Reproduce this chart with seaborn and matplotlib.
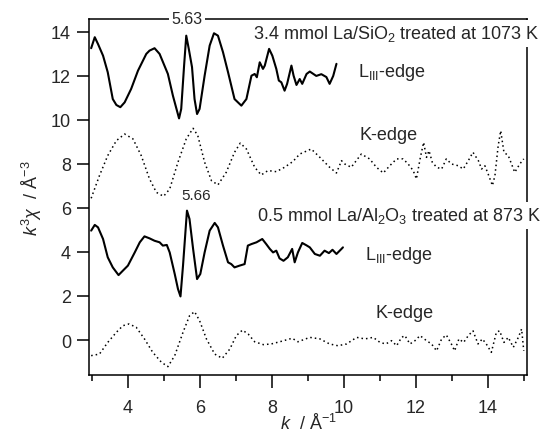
import numpy as np
import pandas as pd
import matplotlib
matplotlib.use("Agg")
import matplotlib.pyplot as plt
import seaborn as sns

sns.set_style("ticks")
plt.rcParams['font.family'] = ['Liberation Sans', 'DejaVu Sans']
plt.rcParams['mathtext.fontset'] = 'custom'
plt.rcParams['mathtext.rm'] = 'Liberation Sans'
plt.rcParams['mathtext.it'] = 'Liberation Sans:italic'
plt.rcParams['mathtext.bf'] = 'Liberation Sans:bold'

# 3.4 mmol La/SiO2, LIII-edge (offset spectrum)
k_si_l3 = [2.98, 3.08, 3.17, 3.31, 3.44, 3.58, 3.68, 3.79, 3.91, 4.09, 4.28, 4.51, 4.60, 4.74,
           4.88, 5.11, 5.25, 5.42, 5.48, 5.56, 5.62, 5.69, 5.78, 5.85, 5.92, 5.99, 6.13, 6.27,
           6.39, 6.50, 6.64, 6.78, 6.96, 7.15, 7.29, 7.43, 7.52, 7.58, 7.66, 7.75, 7.80, 7.92,
           8.01, 8.12, 8.19, 8.26, 8.35, 8.42, 8.54, 8.60, 8.68, 8.77, 8.84, 8.96, 9.05, 9.23,
           9.37, 9.51, 9.60, 9.70, 9.79]
chi_si_l3 = [13.26, 13.76, 13.45, 12.92, 12.17, 10.95, 10.68, 10.58, 10.80, 11.41, 12.24, 13.00,
             13.15, 13.26, 13.00, 12.09, 11.10, 10.07, 10.50, 12.47, 13.83, 13.23, 12.40, 10.95,
             10.27, 10.50, 12.01, 13.38, 13.94, 13.83, 13.08, 12.17, 10.95, 10.65, 10.95, 12.01,
             12.09, 11.94, 12.62, 12.32, 12.47, 13.23, 12.92, 12.32, 11.79, 11.71, 11.33, 11.64,
             12.47, 12.01, 11.59, 11.86, 11.64, 12.09, 12.20, 12.00, 12.08, 11.95, 11.64, 12.00,
             12.55]

# 3.4 mmol La/SiO2, K-edge
k_si_k = [2.98, 3.21, 3.44, 3.68, 3.91, 4.14, 4.37, 4.60, 4.79, 4.99, 5.16, 5.39, 5.62, 5.81,
          5.94, 6.13, 6.32, 6.50, 6.73, 6.96, 7.12, 7.29, 7.52, 7.70, 7.89, 8.12, 8.35, 8.58,
          8.77, 9.09, 9.33, 9.60, 9.79, 9.93, 10.02, 10.20, 10.48, 10.71, 10.90, 11.09, 11.27,
          11.46, 11.64, 11.78, 11.92, 12.01, 12.12, 12.21, 12.29, 12.36, 12.45, 12.57, 12.71,
          12.84, 12.98, 13.17, 13.31, 13.45, 13.58, 13.73, 13.82, 13.91, 14.00, 14.12, 14.19,
          14.28, 14.35, 14.44, 14.56, 14.74, 14.88, 14.99]
chi_si_k = [6.44, 7.47, 8.38, 9.06, 9.36, 9.14, 8.38, 7.32, 6.71, 6.53, 6.86, 8.08, 9.14, 9.62,
            9.29, 8.08, 7.24, 7.05, 7.62, 8.53, 8.95, 8.68, 7.85, 7.50, 7.70, 7.65, 7.85, 8.11,
            8.45, 8.68, 8.30, 7.85, 7.59, 8.15, 8.00, 7.85, 8.45, 8.23, 7.85, 7.59, 7.92, 8.23,
            8.23, 8.00, 7.70, 7.32, 8.30, 8.98, 8.30, 8.60, 8.08, 7.85, 7.77, 8.23, 8.00, 7.92,
            7.77, 8.15, 8.53, 8.15, 7.77, 7.92, 7.55, 7.02, 7.47, 8.83, 9.51, 8.53, 8.38, 7.62,
            8.00, 8.23]

# 0.5 mmol La/Al2O3, LIII-edge
k_al_l3 = [2.98, 3.08, 3.17, 3.31, 3.44, 3.58, 3.74, 3.86, 4.00, 4.19, 4.33, 4.46, 4.60, 4.74,
           4.88, 4.97, 5.08, 5.16, 5.30, 5.39, 5.46, 5.53, 5.64, 5.71, 5.81, 5.92, 6.01, 6.13,
           6.27, 6.41, 6.50, 6.64, 6.78, 6.87, 6.96, 7.10, 7.24, 7.33, 7.43, 7.57, 7.73, 7.84,
           7.94, 8.03, 8.12, 8.21, 8.32, 8.44, 8.56, 8.63, 8.72, 8.84, 8.96, 9.05, 9.19, 9.33,
           9.46, 9.58, 9.68, 9.79, 9.93, 9.97]
chi_al_l3 = [4.97, 5.23, 5.12, 4.59, 3.76, 3.30, 2.95, 3.15, 3.38, 3.98, 4.44, 4.71, 4.62, 4.51,
             4.44, 4.29, 4.32, 3.98, 3.00, 2.32, 1.98, 3.38, 5.88, 5.50, 4.14, 2.77, 3.00, 3.98,
             4.97, 5.32, 5.12, 4.29, 3.53, 3.45, 3.30, 3.38, 3.45, 4.29, 4.36, 4.44, 4.59, 4.36,
             4.14, 3.98, 4.06, 3.71, 3.60, 3.76, 4.14, 3.53, 3.98, 4.41, 4.30, 4.21, 3.91, 3.83,
             4.06, 3.95, 4.10, 3.91, 4.14, 4.21]

# 0.5 mmol La/Al2O3, K-edge
k_al_k = [2.98, 3.21, 3.44, 3.68, 3.86, 4.03, 4.23, 4.46, 4.69, 4.93, 5.11, 5.30, 5.53, 5.71,
          5.85, 5.99, 6.18, 6.41, 6.62, 6.83, 7.01, 7.18, 7.34, 7.52, 7.76, 7.98, 8.26, 8.56,
          8.72, 9.05, 9.33, 9.60, 9.83, 10.07, 10.35, 10.58, 10.81, 11.00, 11.16, 11.32, 11.46,
          11.60, 11.69, 11.83, 11.97, 12.11, 12.29, 12.43, 12.57, 12.71, 12.84, 12.98, 13.07,
          13.19, 13.32, 13.45, 13.58, 13.72, 13.84, 13.95, 14.09, 14.23, 14.32, 14.44, 14.56,
          14.70, 14.84, 14.93, 14.99]
chi_al_k = [-0.71, -0.64, -0.11, 0.35, 0.65, 0.73, 0.58, 0.05, -0.56, -1.01, -1.21, -0.71, 0.35,
            1.10, 1.29, 0.88, 0.05, -0.64, -0.83, -0.41, 0.20, 0.45, 0.27, -0.08, -0.21, -0.18,
            -0.06, 0.08, -0.08, 0.12, 0.05, -0.18, -0.26, -0.18, 0.12, 0.05, 0.12, -0.11, -0.18,
            -0.03, -0.26, 0.12, 0.20, -0.18, -0.03, 0.20, -0.03, -0.18, -0.49, 0.05, 0.23, -0.18,
            -0.49, 0.05, -0.11, 0.20, 0.42, -0.18, 0.05, -0.18, -0.56, 0.35, 0.42, -0.11, 0.12,
            -0.33, 0.12, 0.50, -0.49]

x_ticks = [4, 6, 8, 10, 12, 14]
y_ticks = [0, 2, 4, 6, 8, 10, 12, 14]

fig = plt.figure(figsize=(5.45, 4.35), dpi=100)
ax = fig.add_axes([89 / 545, 1 - 376 / 435, (527 - 89) / 545, (376 - 19.5) / 435])

solid = dict(color='black', lw=1.5, estimator=None)
dotted = dict(color='black', lw=1.1, linestyle=(0, (1, 2)), estimator=None)
sns.lineplot(x=k_si_l3, y=chi_si_l3, ax=ax, **solid)
sns.lineplot(x=k_si_k, y=chi_si_k, ax=ax, **dotted)
sns.lineplot(x=k_al_l3, y=chi_al_l3, ax=ax, **solid)
sns.lineplot(x=k_al_k, y=chi_al_k, ax=ax, **dotted)

ax.set_xlim(2.92, 15.08)
ax.set_ylim(-1.59, 14.61)
ax.set_xticks(x_ticks)
ax.set_xticks(np.arange(3, 16, 2), minor=True)
ax.set_yticks(y_ticks)
ax.tick_params(axis='both', which='major', labelsize=13, length=9, width=1.1, color='black')
ax.tick_params(axis='x', which='minor', length=4.5, width=1.1, color='black')
ax.tick_params(axis='x', which='major', pad=8)
ax.tick_params(axis='y', which='major', pad=4)
for s in ax.spines.values():
    s.set_linewidth(1.1)
    s.set_color('black')

ax.set_xlabel(r'$k$  / Å$^{-1}$', fontsize=13, labelpad=-2)
ax.set_ylabel(r'$k^{3}\chi$  / Å$^{-3}$', fontsize=13, labelpad=5)

box = dict(facecolor='white', edgecolor='none', boxstyle='square,pad=0.2')
ax.text(7.46, 13.71, r'3.4 mmol La/SiO$_2$ treated at 1073 K', fontsize=13,
        va='baseline', ha='left', bbox=box, clip_on=False, zorder=5)
ax.text(7.58, 5.44, r'0.5 mmol La/Al$_2$O$_3$ treated at 873 K', fontsize=13,
        va='baseline', ha='left', bbox=box, clip_on=False, zorder=5)
ax.text(10.39, 12.0, r'L$_{\mathrm{III}}$-edge', fontsize=13, va='baseline', ha='left')
ax.text(10.58, 3.67, r'L$_{\mathrm{III}}$-edge', fontsize=13, va='baseline', ha='left')
ax.text(10.42, 9.12, 'K-edge', fontsize=13, va='baseline', ha='left')
ax.text(10.87, 1.05, 'K-edge', fontsize=13, va='baseline', ha='left')
ax.text(5.48, 6.41, '5.66', fontsize=11, va='baseline', ha='left')
ax.text(5.63, 14.61, '5.63', fontsize=11.5, va='center', ha='center', clip_on=False, zorder=5,
        bbox=dict(facecolor='white', edgecolor='none', boxstyle='square,pad=0.15'))

fig.savefig('out.png', dpi=100)
